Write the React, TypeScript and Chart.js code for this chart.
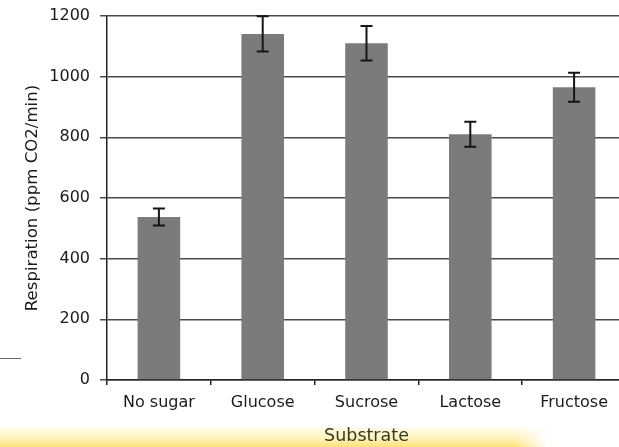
import React, { useEffect, useRef } from "react";
import { Chart, registerables } from "chart.js";

Chart.register(...registerables);

const categories = ["No sugar", "Glucose", "Sucrose", "Lactose", "Fructose"];
const respiration = [537, 1141, 1110, 810, 965];
const errors = [28, 58, 57, 41, 48];
const yTicks = [0, 200, 400, 600, 800, 1000, 1200];
const yTitle = "Respiration (ppm CO2/min)";
const xTitle = "Substrate";

const FONT = "'DejaVu Sans', Verdana, sans-serif";

const errorBarPlugin = {
  id: "errorBars",
  afterDatasetsDraw(chart: any) {
    const meta = chart.getDatasetMeta(0);
    const ys = chart.scales.y;
    const ctx = chart.ctx;
    ctx.save();
    ctx.strokeStyle = "#151515";
    ctx.lineWidth = 2;
    meta.data.forEach((bar: any, i: number) => {
      const x = bar.x;
      const top = ys.getPixelForValue(respiration[i] + errors[i]);
      const bot = ys.getPixelForValue(respiration[i] - errors[i]);
      const cap = 6;
      ctx.beginPath();
      ctx.moveTo(x, top);
      ctx.lineTo(x, bot);
      ctx.moveTo(x - cap, top);
      ctx.lineTo(x + cap, top);
      ctx.moveTo(x - cap, bot);
      ctx.lineTo(x + cap, bot);
      ctx.stroke();
    });
    ctx.restore();
  },
};

export default function App() {
  const ref = useRef<HTMLCanvasElement | null>(null);

  useEffect(() => {
    if (!ref.current) return;
    const chart = new Chart(ref.current, {
      type: "bar",
      data: {
        labels: categories,
        datasets: [
          {
            data: respiration,
            backgroundColor: "#7b7b7b",
            borderWidth: 0,
            categoryPercentage: 1,
            barPercentage: 0.41,
          },
        ],
      },
      options: {
        animation: false,
        responsive: false,
        devicePixelRatio: 1,
        layout: { padding: { top: 16, right: 14, bottom: 0, left: 0 } },
        plugins: {
          legend: { display: false },
          tooltip: { enabled: false },
        },
        scales: {
          x: {
            offset: true,
            grid: {
              display: true,
              drawOnChartArea: false,
              drawTicks: true,
              tickLength: 5,
              color: "#222",
              lineWidth: 1.5,
              offset: true,
            },
            border: { display: true, color: "#222", width: 1.5 },
            ticks: {
              color: "#1a1a1a",
              font: { family: FONT, size: 16 },
              padding: 8,
              maxRotation: 0,
              autoSkip: false,
            },
            title: {
              display: true,
              text: xTitle,
              color: "#3a3a20",
              font: { family: FONT, size: 17.5 },
              padding: { top: 0, bottom: 0 },
            },
            afterFit(scale: any) {
              scale.height = 67;
              scale.paddingLeft = 0;
              scale.paddingRight = 0;
            },
          },
          y: {
            min: 0,
            max: 1200,
            afterBuildTicks(scale: any) {
              scale.ticks = yTicks.map((v) => ({ value: v }));
            },
            grid: {
              color: "#4a4a4a",
              lineWidth: 1.5,
              tickLength: 7,
              drawTicks: true,
            },
            border: { display: true, color: "#222", width: 1.5 },
            ticks: {
              color: "#1a1a1a",
              font: { family: FONT, size: 16 },
              padding: 10,
              callback: (v: any) => String(v),
            },
            title: {
              display: true,
              text: yTitle,
              color: "#1a1a1a",
              font: { family: FONT, size: 16.6 },
              padding: { top: 23, bottom: 0 },
            },
            afterFit(scale: any) {
              scale.width = 107;
              scale.paddingTop = 0;
              scale.paddingBottom = 0;
            },
          },
        },
      },
      plugins: [errorBarPlugin],
    });
    return () => chart.destroy();
  }, []);

  return (
    <div
      style={{
        position: "fixed",
        left: 0,
        top: 0,
        width: 619,
        height: 447,
        overflow: "hidden",
        background: "#ffffff",
      }}
    >
      <div
        style={{
          position: "absolute",
          left: 0,
          top: 427,
          width: 548,
          height: 20,
          background:
            "linear-gradient(to bottom, rgba(255,250,225,0.5) 0%, rgba(255,240,170,0.85) 60%, rgba(252,225,120,1) 100%)",
          WebkitMaskImage:
            "linear-gradient(to right, #000 0%, #000 94%, transparent 100%)",
          maskImage:
            "linear-gradient(to right, #000 0%, #000 94%, transparent 100%)",
        }}
      />
      <div
        style={{
          position: "absolute",
          left: 0,
          top: 358,
          width: 21,
          height: 1,
          background: "#666",
        }}
      />
      <canvas
        ref={ref}
        width={640}
        height={447}
        style={{ position: "absolute", left: 0, top: 0, width: 640, height: 447 }}
      />
    </div>
  );
}
